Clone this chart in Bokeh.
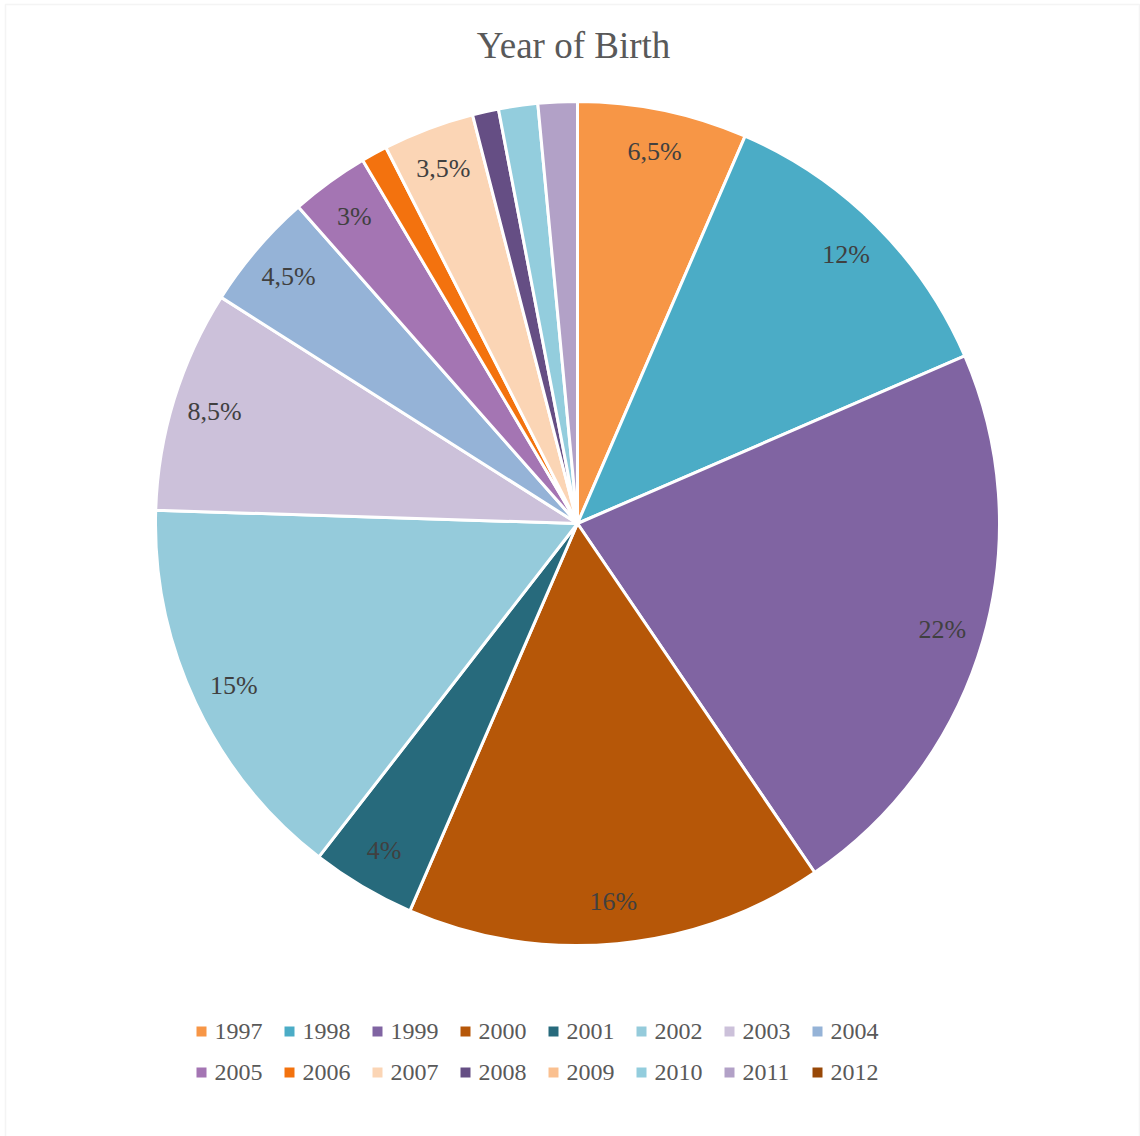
import math
from bokeh.plotting import figure
from bokeh.models import ColumnDataSource, Label, BoxAnnotation, Range1d
from bokeh.core.properties import value
from bokeh.embed import file_html
from bokeh.resources import INLINE

# ---- data ----
years = ["1997", "1998", "1999", "2000", "2001", "2002", "2003", "2004",
         "2005", "2006", "2007", "2008", "2009", "2010", "2011", "2012"]
shares = [6.5, 12, 22, 16, 4, 15, 8.5, 4.5, 3, 1, 3.5, 1, 0, 1.5, 1.5, 0]
colors = ["#F79646", "#4BACC6", "#8064A2", "#B65708", "#276A7C", "#95CBDB",
          "#CCC1DA", "#95B3D7", "#A475B3", "#F3720E", "#FBD5B5", "#654E84",
          "#FAC090", "#93CDDD", "#B2A1C7", "#984807"]
title_text = "Year of Birth"

# ---- layout ----
W, H = 1140, 1136
CX, CY = 577, H - 523
R = 422
LABEL_R = 0.9 * R
FONT = "Liberation Serif"
LEG_X0, LEG_DX = 201, 88
LEG_Y0, LEG_DY = H - 1031, 41
LEG_COLS = 8

total = sum(shares)
wx, wy, wr, starts, ends, wcol = [], [], [], [], [], []
lx, ly, ltxt = [], [], []
cum = 0.0
for s, c in zip(shares, colors):
    a0 = cum / total
    cum += s
    a1 = cum / total
    if s <= 0:
        continue
    wx.append(CX); wy.append(CY); wr.append(R); wcol.append(c)
    starts.append(math.pi / 2 - 2 * math.pi * a1)
    ends.append(math.pi / 2 - 2 * math.pi * a0)
    if s >= 3:
        mid = math.pi / 2 - 2 * math.pi * (a0 + a1) / 2
        lx.append(CX + LABEL_R * math.cos(mid))
        ly.append(CY + LABEL_R * math.sin(mid))
        ltxt.append((f"{s:g}").replace(".", ",") + "%")

wedges = ColumnDataSource(dict(x=wx, y=wy, r=wr, start=starts, end=ends, color=wcol))
labels = ColumnDataSource(dict(x=lx, y=ly, text=ltxt))

leg_x = [LEG_X0 + LEG_DX * (i % LEG_COLS) for i in range(len(years))]
leg_y = [LEG_Y0 - LEG_DY * (i // LEG_COLS) for i in range(len(years))]
legend_src = ColumnDataSource(dict(x=leg_x, y=leg_y, tx=[v + 13 for v in leg_x],
                                   year=years, color=colors))

p = figure(width=W, height=H, output_backend="svg", toolbar_location=None,
           x_range=Range1d(0, W), y_range=Range1d(0, H), min_border=0,
           outline_line_color=None)
p.axis.visible = False
p.grid.visible = False

p.add_layout(BoxAnnotation(left=5, right=W - 1, bottom=-10, top=H - 4,
                           fill_alpha=0, line_color="#D9D9D9", line_width=1.5))

p.wedge(x="x", y="y", radius="r", start_angle="start", end_angle="end",
        source=wedges, fill_color="color", line_color="white", line_width=3)

p.text(x="x", y="y", text="text", source=labels, text_align="center",
       text_baseline="middle", text_font=value(FONT), text_font_size="26px",
       text_color="#404040")

p.add_layout(Label(x=W / 2 + 3, y=H - 45, text=title_text, text_align="center",
                   text_baseline="middle", text_font=FONT, text_font_size="37px",
                   text_color="#595959"))

# legend
p.scatter(x="x", y="y", source=legend_src, marker="square", size=10,
          fill_color="color", line_color=None)
p.text(x="tx", y="y", text="year", source=legend_src, text_align="left",
       text_baseline="middle", text_font=value(FONT), text_font_size="24px",
       text_color="#595959")

open("out.html", "w").write(file_html(p, INLINE))
